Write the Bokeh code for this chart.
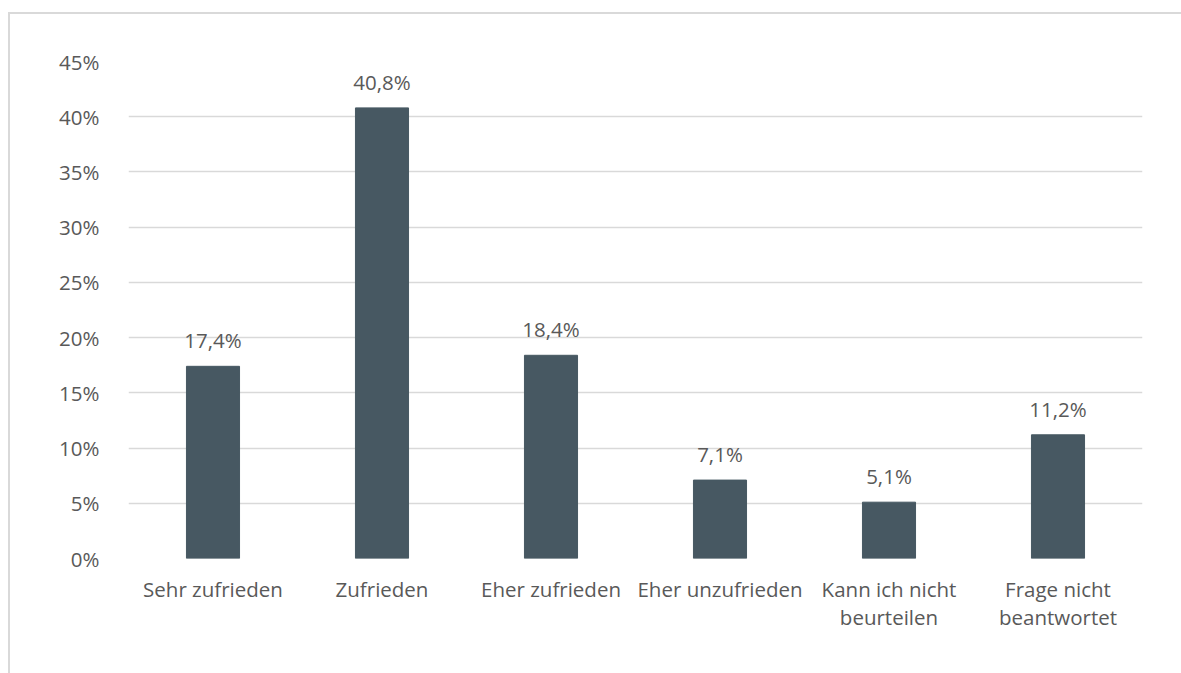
from bokeh.plotting import figure
from bokeh.models import ColumnDataSource, FixedTicker, NumeralTickFormatter, Range1d, FactorRange
from bokeh.core.properties import value
from bokeh.embed import file_html
from bokeh.resources import INLINE

categories = ["Sehr zufrieden", "Zufrieden", "Eher zufrieden", "Eher unzufrieden",
              "Kann ich nicht\nbeurteilen", "Frage nicht\nbeantwortet"]
shares = [0.174, 0.408, 0.184, 0.071, 0.051, 0.112]
y_ticks = [0.0, 0.05, 0.10, 0.15, 0.20, 0.25, 0.30, 0.35, 0.40, 0.45]

labels = [("%.1f%%" % (v * 100)).replace(".", ",") for v in shares]
src = ColumnDataSource(dict(cat=categories, val=shares, lab=labels))

FONT = "Open Sans"
TXT = "#595959"
GRID = "#d9d9d9"
FS = "20.5px"

p = figure(x_range=FactorRange(*categories), y_range=Range1d(0, 0.45),
           width=1173, height=661, output_backend="svg", toolbar_location=None,
           min_border_left=118, min_border_right=41, min_border_top=47,
           min_border_bottom=117)
p.margin = (12, 0, 0, 8)
p.styles = {"border-top": "2px solid #d9d9d9", "border-left": "2px solid #d9d9d9",
            "box-sizing": "border-box"}
p.outline_line_color = None
p.background_fill_color = "white"
p.border_fill_color = "white"

p.vbar(x="cat", top="val", width=0.314, source=src, color="#475862")
p.text(x="cat", y="val", text="lab", source=src, text_align="center",
       text_baseline="alphabetic", y_offset=-26, text_font=value(FONT),
       text_font_size=FS, text_color=TXT)

p.xgrid.grid_line_color = None
p.ygrid.grid_line_color = GRID
p.ygrid.grid_line_width = 1.3
p.yaxis.ticker = FixedTicker(ticks=y_ticks)
p.yaxis.formatter = NumeralTickFormatter(format="0%")
for ax in (p.xaxis, p.yaxis):
    ax.axis_line_color = None
    ax.major_tick_line_color = None
    ax.minor_tick_line_color = None
    ax.major_label_text_font = FONT
    ax.major_label_text_font_size = FS
    ax.major_label_text_color = TXT
p.yaxis.major_label_standoff = 23
p.xaxis.major_label_standoff = 10
p.xaxis.major_label_text_line_height = 1.0

open("out.html", "w").write(file_html(p, INLINE))
